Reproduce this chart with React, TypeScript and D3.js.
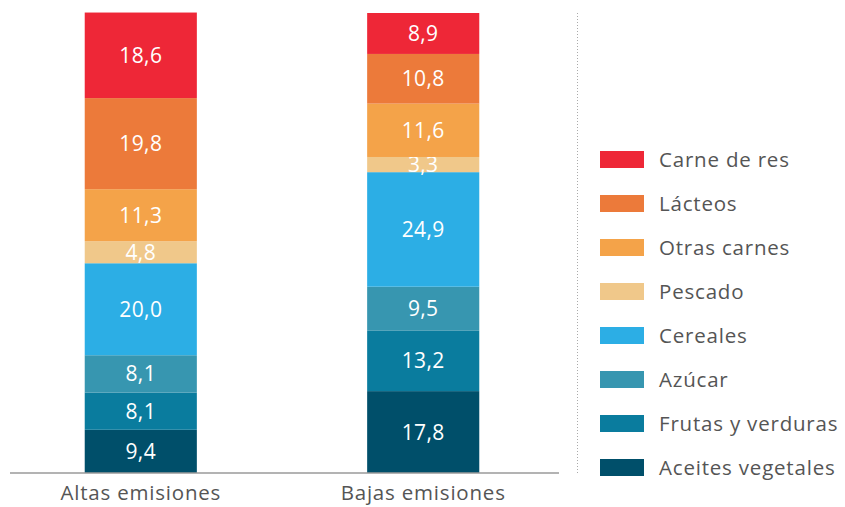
import { useEffect, useRef } from "react";
import * as d3 from "d3";

const categories = ["Altas emisiones", "Bajas emisiones"];
const foods = [
  "Aceites vegetales",
  "Frutas y verduras",
  "Azúcar",
  "Cereales",
  "Pescado",
  "Otras carnes",
  "Lácteos",
  "Carne de res",
];
// values listed bottom-up, same order as foods
const altas = [9.4, 8.1, 8.1, 20.0, 4.8, 11.3, 19.8, 18.6];
const bajas = [17.8, 13.2, 9.5, 24.9, 3.3, 11.6, 10.8, 8.9];
const colors = ["#004f6a", "#0a7c9e", "#3796b0", "#2caee5", "#f0c88a", "#f4a349", "#ec7a3a", "#ee2737"];

const W = 845;
const H = 507;
const FONT = "'Open Sans', sans-serif";

export default function App() {
  const svgRef = useRef<SVGSVGElement>(null);

  useEffect(() => {
    if (!svgRef.current) return;
    const svg = d3.select(svgRef.current);
    svg.selectAll("*").remove();

    const series = [altas, bajas];
    const x = d3.scaleBand().domain(categories).range([0, 564]).paddingInner(0.603).paddingOuter(0.3);
    const y = d3.scaleLinear().domain([0, 100]).range([473, 13]);
    const fmt = (v: number) => v.toFixed(1).replace(".", ",");

    categories.forEach((cat, ci) => {
      const g = svg.append("g");
      let acc = 0;
      series[ci].forEach((v, i) => {
        const y0 = acc;
        acc += v;
        const top = y(acc);
        const bot = y(y0);
        g.append("rect")
          .attr("x", x(cat)!)
          .attr("y", top)
          .attr("width", x.bandwidth())
          .attr("height", bot - top)
          .attr("fill", colors[i]);
        g.append("text")
          .attr("x", x(cat)! + x.bandwidth() / 2)
          .attr("y", (top + bot) / 2)
          .attr("dy", "0.36em")
          .attr("text-anchor", "middle")
          .attr("font-family", FONT)
          .attr("font-size", 21)
          .attr("letter-spacing", 0.4)
          .attr("fill", "#fff")
          .text(fmt(v));
      });
      svg.append("text")
        .attr("x", x(cat)! + x.bandwidth() / 2)
        .attr("y", 500)
        .attr("text-anchor", "middle")
        .attr("font-family", FONT)
        .attr("font-size", 20.5)
        .attr("letter-spacing", 0.8)
        .attr("fill", "#555")
        .text(cat);
    });

    // baseline
    svg.append("line")
      .attr("x1", 10).attr("x2", 559)
      .attr("y1", 473).attr("y2", 473)
      .attr("stroke", "#9a9a9a").attr("stroke-width", 1.5);

    // dotted separator
    svg.append("line")
      .attr("x1", 577.5).attr("x2", 577.5)
      .attr("y1", 13).attr("y2", 473)
      .attr("stroke", "#aaa").attr("stroke-width", 1)
      .attr("stroke-dasharray", "1,2");

    // legend, top to bottom
    const legendItems = foods.map((f, i) => ({ f, c: colors[i] })).reverse();
    const ly = d3.scalePoint().domain(legendItems.map((d) => d.f)).range([159.5, 467.5]);
    const lg = svg.append("g");
    legendItems.forEach((d) => {
      lg.append("rect")
        .attr("x", 600).attr("y", ly(d.f)! - 8.5)
        .attr("width", 44).attr("height", 17)
        .attr("fill", d.c);
      lg.append("text")
        .attr("x", 659).attr("y", ly(d.f)!)
        .attr("dy", "0.36em")
        .attr("font-family", FONT)
        .attr("font-size", 20.5)
        .attr("letter-spacing", 0.8)
        .attr("fill", "#555")
        .text(d.f);
    });
  }, []);

  return (
    <svg
      ref={svgRef}
      width={W}
      height={H}
      style={{ position: "absolute", left: 0, top: 0, background: "#fff" }}
    />
  );
}
